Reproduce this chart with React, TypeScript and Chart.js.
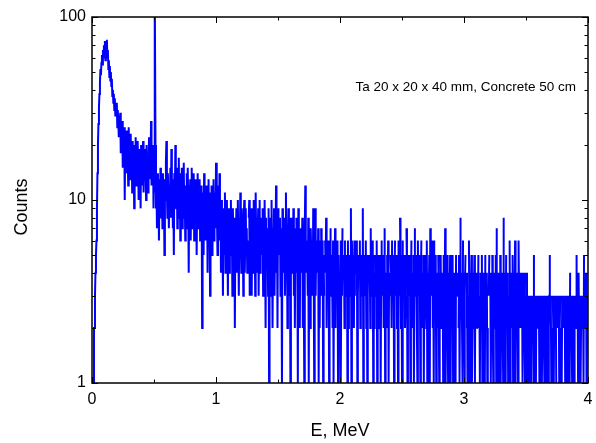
import React, { useEffect, useRef } from 'react';
import { Chart, registerables } from 'chart.js';

Chart.register(...registerables);

// Channel calibration (MeV per channel)
const CHANNEL_MEV = 0.004;

// Counts per channel
// 0.000 - 0.396 MeV
const countsA = [
  0, 0, 1, 1, 2, 2, 3, 4, 5, 6,
  9, 14, 20, 26, 32, 38, 44, 52, 48, 56,
  62, 55, 66, 60, 70, 64, 74, 58, 72, 68,
  75, 60, 66, 52, 58, 47, 54, 45, 50, 42,
  46, 37, 40, 34, 38, 31, 36, 29, 33, 30,
  34, 25, 31, 27, 22, 29, 24, 30, 18, 26,
  20, 27, 15, 23, 19, 25, 10, 21, 17, 24,
  14, 22, 18, 12, 25, 16, 20, 13, 23, 15,
  19, 11, 21, 15, 17, 9, 20, 14, 22, 12,
  18, 13, 21, 16, 10, 19, 14, 17, 9, 20,
];
// 0.400 - 0.796 MeV
const countsB = [
  12, 18, 15, 21, 11, 16, 19, 13, 17, 10,
  20, 14, 18, 11, 16, 22, 13, 19, 15, 27,
  12, 18, 14, 20, 9, 16, 11, 150, 20, 9,
  12, 7, 14, 9, 11, 6, 13, 8, 15, 10,
  8, 12, 7, 14, 9, 11, 5, 13, 10, 16,
  21, 11, 8, 14, 10, 7, 12, 9, 15, 8,
  19, 10, 13, 7, 11, 5, 14, 9, 20, 12,
  9, 15, 7, 13, 10, 17, 8, 12, 6, 14,
  10, 15, 7, 13, 9, 16, 8, 11, 6, 12,
  9, 14, 7, 15, 10, 4, 12, 8, 13, 6,
];
// 0.800 - 1.196 MeV
const countsC = [
  11, 15, 7, 12, 9, 14, 6, 10, 13, 8,
  12, 5, 10, 14, 7, 11, 9, 13, 6, 10,
  8, 12, 2, 9, 11, 5, 14, 7, 10, 6,
  12, 8, 11, 4, 10, 13, 6, 9, 3, 11,
  7, 12, 5, 10, 8, 13, 6, 9, 11, 7,
  16, 8, 10, 5, 9, 12, 7, 14, 6, 9,
  4, 10, 6, 8, 3, 9, 5, 7, 11, 4,
  8, 5, 10, 6, 3, 9, 7, 4, 8, 6,
  10, 5, 7, 3, 9, 6, 4, 8, 2, 7,
  5, 9, 4, 7, 10, 6, 3, 8, 5, 11,
];
// 1.200 - 1.596 MeV
const countsD = [
  6, 4, 9, 5, 7, 3, 8, 10, 4, 6,
  9, 5, 7, 4, 6, 0, 8, 10, 3, 7,
  5, 9, 3, 8, 6, 4, 10, 5, 7, 3,
  11, 6, 4, 8, 5, 9, 3, 7, 10, 4,
  6, 8, 0, 5, 9, 3, 7, 4, 10, 6,
  2, 8, 0, 5, 7, 3, 9, 1, 6, 4,
  8, 3, 10, 5, 2, 7, 4, 9, 3, 6,
  5, 12, 4, 7, 2, 9, 5, 0, 6, 8,
  3, 7, 5, 1, 9, 4, 6, 0, 8, 3,
  5, 11, 4, 7, 2, 6, 9, 3, 5, 8,
];
// 1.600 - 1.996 MeV
const countsE = [
  1, 6, 4, 8, 0, 5, 9, 3, 7, 2,
  6, 0, 8, 4, 5, 1, 9, 3, 6, 2,
  7, 4, 0, 5, 8, 2, 6, 3, 1, 7,
  12, 4, 6, 0, 5, 3, 8, 1, 6, 4,
  2, 7, 5, 0, 6, 3, 9, 4, 1, 5,
  9, 3, 6, 0, 5, 4, 7, 1, 6, 2,
  5, 0, 7, 3, 4, 6, 1, 5, 3, 0,
  6, 4, 8, 2, 5, 0, 4, 6, 1, 5,
  3, 7, 0, 5, 4, 2, 6, 1, 5, 3,
  7, 2, 5, 0, 4, 6, 1, 5, 3, 0,
];
// 2.000 - 2.396 MeV
const countsF = [
  4, 6, 1, 5, 3, 7, 0, 4, 5, 2,
  6, 0, 4, 3, 5, 1, 6, 2, 4, 0,
  5, 3, 9, 1, 6, 4, 0, 5, 2, 6,
  3, 0, 5, 4, 6, 1, 3, 5, 0, 4,
  6, 2, 5, 0, 4, 3, 9, 1, 5, 3,
  0, 4, 6, 2, 5, 1, 3, 5, 0, 4,
  5, 2, 7, 0, 4, 3, 6, 1, 5, 2,
  4, 0, 5, 3, 6, 1, 4, 2, 5, 0,
  3, 5, 1, 4, 6, 0, 3, 5, 2, 4,
  7, 1, 4, 3, 0, 5, 2, 6, 1, 4,
];
// 2.400 - 2.796 MeV
const countsG = [
  3, 0, 5, 4, 2, 6, 0, 3, 5, 1,
  4, 6, 0, 3, 5, 2, 4, 1, 6, 3,
  0, 8, 4, 2, 5, 1, 3, 6, 0, 4,
  5, 2, 3, 0, 7, 4, 1, 5, 3, 0,
  4, 5, 1, 3, 6, 0, 4, 2, 5, 1,
  3, 7, 0, 4, 5, 2, 1, 6, 3, 0,
  5, 4, 1, 3, 6, 0, 4, 2, 5, 1,
  4, 0, 5, 3, 2, 6, 1, 4, 0, 3,
  5, 1, 7, 4, 0, 3, 6, 2, 4, 1,
  6, 0, 3, 5, 1, 4, 2, 0, 5, 3,
];
// 2.800 - 3.196 MeV
const countsH = [
  1, 4, 0, 5, 2, 3, 0, 4, 1, 5,
  0, 3, 7, 1, 4, 0, 5, 2, 1, 4,
  0, 3, 5, 1, 4, 0, 2, 5, 1, 3,
  0, 4, 2, 1, 5, 0, 3, 4, 0, 2,
  5, 1, 3, 8, 0, 4, 2, 1, 6, 0,
  4, 1, 3, 5, 0, 2, 4, 1, 3, 0,
  6, 1, 4, 0, 3, 5, 1, 2, 4, 0,
  3, 5, 1, 4, 0, 2, 3, 4, 2, 5,
  0, 3, 1, 4, 2, 0, 5, 1, 3, 0,
  4, 2, 1, 5, 0, 3, 4, 1, 2, 0,
];
// 3.200 - 3.596 MeV
const countsI = [
  3, 5, 0, 4, 1, 3, 0, 5, 2, 1,
  4, 0, 3, 2, 5, 1, 7, 0, 3, 1,
  4, 2, 0, 5, 1, 3, 0, 4, 2, 1,
  8, 0, 3, 4, 1, 5, 0, 2, 4, 1,
  3, 0, 6, 1, 4, 2, 0, 3, 5, 1,
  4, 0, 3, 6, 1, 4, 2, 0, 3, 1,
  6, 3, 2, 4, 2, 3, 0, 4, 1, 3,
  0, 4, 2, 1, 3, 0, 4, 1, 3, 0,
  3, 1, 2, 0, 3, 1, 3, 0, 2, 3,
  1, 5, 0, 3, 2, 1, 3, 0, 2, 3,
];
// 3.600 - 3.996 MeV
const countsJ = [
  0, 3, 1, 2, 3, 0, 3, 1, 2, 0,
  3, 2, 1, 3, 0, 2, 3, 1, 0, 3,
  1, 2, 3, 5, 0, 3, 1, 2, 0, 3,
  2, 1, 3, 0, 2, 3, 1, 0, 3, 2,
  0, 3, 1, 2, 3, 0, 2, 1, 3, 0,
  3, 2, 0, 3, 1, 2, 3, 0, 1, 3,
  0, 2, 3, 1, 4, 0, 3, 2, 1, 3,
  0, 2, 3, 1, 0, 3, 2, 5, 0, 3,
  1, 4, 2, 0, 3, 1, 2, 3, 0, 2,
  3, 1, 5, 0, 3, 2, 4, 1, 3, 0,
];

const xMajorTicks = [0, 1, 2, 3, 4];
const xMinorTicks = [0.5, 1.5, 2.5, 3.5];
const yMajorTicks = [1, 10, 100];
const yMinorTicks = [2, 3, 4, 5, 6, 7, 8, 9, 20, 30, 40, 50, 60, 70, 80, 90];
const annotationText = 'Ta 20 x 20 x 40 mm, Concrete 50 cm';
const xTitle = 'E, MeV';
const yTitle = 'Counts';

const FONT = "'Liberation Sans', Arial, sans-serif";

const framePlugin = {
  id: 'framePlugin',
  afterDatasetsDraw(chart: any) {
    const { ctx, chartArea: a, scales } = chart;
    const xs = scales.x;
    const ys = scales.y;
    ctx.save();
    ctx.strokeStyle = '#000';
    ctx.lineWidth = 1;
    const major = 6;
    const minor = 3.5;
    ctx.beginPath();
    const xt = (v: number, len: number) => {
      const px = Math.round(xs.getPixelForValue(v)) + 0.5;
      ctx.moveTo(px, a.bottom);
      ctx.lineTo(px, a.bottom - len);
      ctx.moveTo(px, a.top);
      ctx.lineTo(px, a.top + len);
    };
    const yt = (v: number, len: number) => {
      const py = Math.round(ys.getPixelForValue(v)) + 0.5;
      ctx.moveTo(a.left, py);
      ctx.lineTo(a.left + len, py);
      ctx.moveTo(a.right, py);
      ctx.lineTo(a.right - len, py);
    };
    xMajorTicks.forEach((v) => xt(v, major));
    xMinorTicks.forEach((v) => xt(v, minor));
    yMajorTicks.forEach((v) => yt(v, major));
    yMinorTicks.forEach((v) => yt(v, minor));
    ctx.stroke();
    ctx.lineWidth = 1.5;
    ctx.strokeRect(a.left, a.top, a.right - a.left, a.bottom - a.top);

    ctx.fillStyle = '#000';
    ctx.font = `13.5px ${FONT}`;
    ctx.textAlign = 'right';
    ctx.textBaseline = 'middle';
    ctx.fillText(annotationText, 576, 87);

    // y axis title
    ctx.save();
    ctx.translate(22, 207);
    ctx.rotate(-Math.PI / 2);
    ctx.font = `18px ${FONT}`;
    ctx.textAlign = 'center';
    ctx.textBaseline = 'middle';
    ctx.fillText(yTitle, 0, 0);
    ctx.restore();

    ctx.restore();
  },
};

export default function App() {
  const canvasRef = useRef<HTMLCanvasElement | null>(null);

  useEffect(() => {
    document.body.style.margin = '0';
    const canvas = canvasRef.current;
    if (!canvas) return;
    const counts = [
      ...countsA, ...countsB, ...countsC, ...countsD, ...countsE,
      ...countsF, ...countsG, ...countsH, ...countsI, ...countsJ,
    ];
    const points = counts.map((c, i) => ({ x: i * CHANNEL_MEV, y: c }));

    const chart = new Chart(canvas, {
      type: 'line',
      data: {
        datasets: [
          {
            data: points,
            borderColor: '#0000ff',
            borderWidth: 2,
            pointRadius: 0,
            tension: 0,
            fill: false,
          },
        ],
      },
      options: {
        animation: false,
        responsive: false,
        devicePixelRatio: 1,
        layout: { padding: { top: 17, right: 8, left: 0, bottom: 0 } },
        plugins: {
          legend: { display: false },
          tooltip: { enabled: false },
        },
        scales: {
          x: {
            type: 'linear',
            min: 0,
            max: 4,
            afterFit: (s: any) => {
              s.height = 60;
              s.paddingLeft = 0;
              s.paddingRight = 0;
            },
            afterBuildTicks: (s: any) => {
              s.ticks = xMajorTicks.map((v) => ({ value: v }));
            },
            grid: { display: false, drawTicks: false },
            border: { display: false },
            ticks: {
              color: '#000',
              padding: 7,
              font: { family: FONT, size: 16 },
              maxRotation: 0,
              callback: (v: any) => String(v),
            },
            title: {
              display: true,
              text: xTitle,
              color: '#000',
              font: { family: FONT, size: 18 },
              padding: { top: 0, bottom: 1 },
            },
          },
          y: {
            type: 'logarithmic',
            min: 1,
            max: 100,
            afterFit: (s: any) => {
              s.width = 92;
              s.paddingTop = 0;
              s.paddingBottom = 0;
            },
            afterBuildTicks: (s: any) => {
              s.ticks = yMajorTicks.map((v) => ({ value: v }));
            },
            grid: { display: false, drawTicks: false },
            border: { display: false },
            ticks: {
              color: '#000',
              padding: 6,
              font: { family: FONT, size: 16 },
              callback: (v: any) => String(v),
            },
            title: { display: false },
          },
        },
      } as any,
      plugins: [framePlugin],
    });
    return () => chart.destroy();
  }, []);

  return (
    <div style={{ position: 'fixed', left: 0, top: 0, width: 596, height: 443, background: '#fff' }}>
      <canvas ref={canvasRef} width={596} height={443} style={{ width: 596, height: 443, display: 'block' }} />
    </div>
  );
}
